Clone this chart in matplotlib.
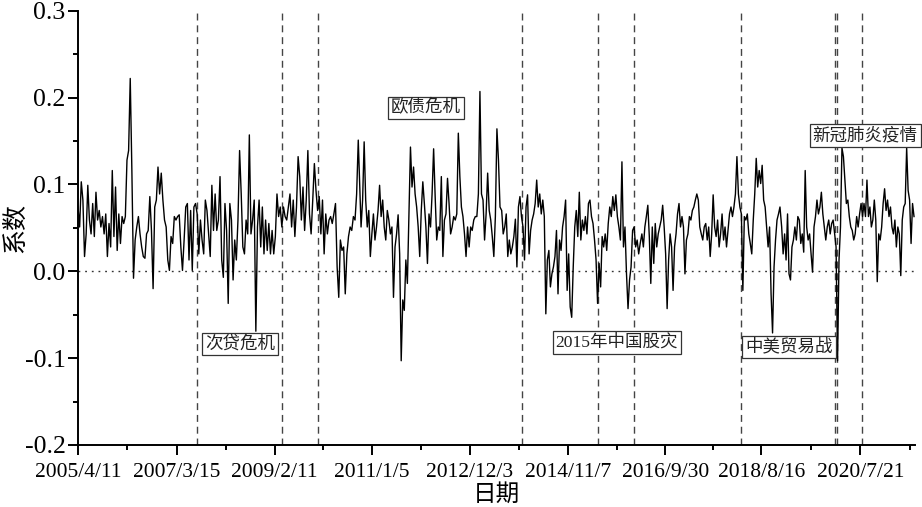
import matplotlib
matplotlib.use("Agg")
import matplotlib.pyplot as plt
from matplotlib.ticker import MultipleLocator, FormatStrFormatter
import pandas as pd

plt.rcParams['font.family'] = ['Liberation Serif', 'Noto Sans CJK SC']
plt.rcParams['axes.unicode_minus'] = False

# coefficient series
seg_edges = [("2005-04-11", "2008-01-19"), ("2008-01-31", "2010-10-01"),
             ("2010-10-21", "2013-07-08"), ("2013-07-20", "2016-04-03"),
             ("2016-04-15", "2018-12-26"), ("2019-01-07", "2021-08-08")]

seg_a = [0.074, 0.051, 0.103, 0.082, 0.017, 0.043, 0.099, 0.059, 0.043, 0.078,
         0.040, 0.091, 0.059, 0.070, 0.051, 0.063, 0.043, 0.066, 0.017, 0.055,
         0.028, 0.116, 0.040, 0.097, 0.024, 0.066, 0.032, 0.063, 0.055, 0.063,
         0.128, 0.139, 0.222, 0.116, -0.008, 0.036, 0.051, 0.063, 0.043, 0.028,
         0.017, 0.015, 0.043, 0.047, 0.086, 0.047, -0.020, 0.074, 0.082, 0.120,
         0.089, 0.113, 0.082, 0.059, 0.051, 0.013, 0.001, 0.040, 0.032, 0.063,
         0.059, 0.063, 0.065, 0.028, 0.001, 0.036, 0.074, 0.078, 0.013, 0.070,
         0.001, 0.074, 0.078, 0.066, 0.020, 0.059, 0.036, 0.020, 0.082, 0.070,
         0.043, 0.017, 0.099, 0.047, 0.089, 0.047, 0.059, 0.109]

seg_b = [0.013, -0.007, 0.078, 0.047, -0.037, 0.078, 0.059, -0.010, 0.036, 0.013,
         0.059, 0.139, 0.089, 0.028, 0.020, 0.059, 0.043, 0.157, 0.043, 0.059,
         0.082, -0.069, 0.051, 0.082, 0.028, 0.074, 0.020, 0.059, 0.024, 0.055,
         0.020, 0.047, 0.020, 0.040, 0.089, 0.063, 0.074, 0.051, 0.074, 0.063,
         0.059, 0.074, 0.089, 0.051, 0.082, 0.040, 0.074, 0.132, 0.109, 0.059,
         0.097, 0.047, 0.082, 0.139, 0.066, 0.043, 0.082, 0.124, 0.093, 0.070,
         0.086, 0.043, 0.082, 0.020, 0.066, 0.043, 0.059, 0.063, 0.055, 0.066,
         0.078, 0.005, -0.030, 0.036, 0.024, 0.028, -0.026, 0.020, 0.040, 0.051,
         0.047, 0.063, 0.059, 0.089, 0.151]

seg_c = [0.051, 0.082, 0.149, 0.082, 0.051, 0.070, 0.017, 0.043, 0.066, 0.036,
         0.051, 0.070, 0.099, 0.063, 0.082, 0.051, 0.036, 0.070, 0.059, 0.043,
         0.051, -0.030, 0.028, 0.043, 0.065, 0.020, -0.103, -0.033, -0.045, 0.013,
         -0.014, 0.066, 0.143, 0.097, 0.120, 0.089, 0.074, 0.051, 0.017, 0.070,
         0.103, 0.078, 0.051, 0.009, 0.066, 0.051, 0.089, 0.141, 0.086, 0.036,
         0.051, 0.047, 0.109, 0.017, 0.059, 0.066, 0.107, 0.078, 0.043, 0.051,
         0.063, 0.059, 0.066, 0.159, 0.109, 0.074, 0.063, 0.043, 0.017, 0.051,
         0.028, 0.051, 0.047, 0.059, 0.063, 0.063, 0.089, 0.207, 0.089, 0.082,
         0.036, 0.066, 0.113, 0.070, 0.059, 0.040, 0.017, 0.063, 0.164, 0.128,
         0.074]

seg_d = [0.070, 0.043, 0.051, 0.066, 0.017, 0.036, 0.020, 0.028, 0.040, 0.060,
         0.005, 0.074, 0.086, 0.063, 0.051, 0.013, 0.074, 0.088, 0.020, 0.047,
         0.059, 0.066, 0.078, 0.105, 0.074, 0.089, 0.066, 0.082, 0.063, -0.049,
         0.013, 0.024, -0.018, -0.003, 0.005, 0.017, 0.047, -0.026, 0.036, 0.024,
         0.051, 0.063, 0.082, -0.022, 0.020, -0.041, -0.053, 0.005, 0.051, 0.070,
         0.040, 0.091, 0.036, 0.059, 0.047, 0.063, 0.043, 0.078, 0.082, 0.063,
         0.055, 0.036, 0.013, -0.037, 0.009, -0.018, 0.040, 0.028, 0.043, 0.024,
         0.055, 0.074, 0.063, 0.086, 0.070, 0.088, 0.063, 0.051, 0.036, 0.126,
         0.028, 0.051, -0.003, -0.043, -0.010, 0.005, 0.047, 0.051, 0.028, 0.036,
         0.020, 0.032]

seg_e = [0.043, 0.028, 0.051, 0.063, 0.076, 0.040, -0.014, 0.051, 0.009, 0.055,
         0.028, 0.043, 0.051, 0.059, 0.076, 0.051, 0.020, -0.043, 0.013, 0.043,
         0.028, -0.022, 0.028, 0.043, 0.066, 0.078, 0.051, 0.063, 0.051, -0.003,
         0.036, 0.043, 0.063, 0.059, 0.070, 0.074, 0.082, 0.089, 0.082, 0.051,
         0.043, 0.036, 0.051, 0.055, 0.036, 0.051, 0.017, 0.043, 0.088, 0.051,
         0.040, 0.059, 0.028, 0.043, 0.066, 0.036, 0.051, 0.028, 0.047, 0.066,
         0.074, 0.063, 0.074, 0.089, 0.132, 0.089, 0.074, 0.066, -0.022, 0.063,
         0.059, 0.066, 0.043, 0.032, 0.020, 0.059, 0.089, 0.130, 0.097, 0.116,
         0.101, 0.122, 0.082, 0.074, 0.051, 0.028, 0.051, -0.026, -0.071, 0.005,
         0.036, 0.059, 0.066, 0.074]

seg_f = [0.051, 0.020, 0.043, 0.013, 0.066, -0.003, -0.010, 0.028, 0.036, 0.051,
         0.036, 0.063, 0.059, 0.032, 0.043, 0.022, 0.116, 0.051, 0.036, 0.043,
         0.020, -0.001, 0.051, 0.063, 0.082, 0.066, 0.074, 0.091, 0.066, 0.051,
         0.036, 0.051, 0.059, 0.043, 0.055, 0.059, 0.043, 0.028, -0.103, 0.013,
         0.051, 0.142, 0.132, 0.105, 0.078, 0.082, 0.063, 0.051, 0.047, 0.036,
         0.043, 0.063, 0.051, 0.066, 0.078, 0.063, 0.078, 0.063, 0.105, 0.063,
         0.074, 0.051, 0.059, 0.082, 0.059, -0.012, 0.043, 0.036, 0.051, 0.078,
         0.095, 0.070, 0.082, 0.063, 0.074, 0.051, 0.043, 0.059, 0.028, 0.051,
         0.043, -0.005, 0.059, 0.074, 0.078, 0.142, 0.093, 0.082, 0.032, 0.078,
         0.063]

segments = [seg_a, seg_b, seg_c, seg_d, seg_e, seg_f]

# event markers (dashed lines)
event_dates = ["2007-08-05", "2009-04-02", "2009-12-19", "2013-12-11", "2015-06-08",
               "2016-02-20", "2018-03-24", "2020-01-23", "2020-02-05", "2020-08-04"]

# labelled boxes
labels = ["次贷危机", "欧债危机", "2015年中国股灾", "中美贸易战", "新冠肺炎疫情"]
label_dates = ["2008-06-10", "2012-01-27", "2015-10-20", "2019-03-01", "2020-08-24"]
label_vals = [-0.0835, 0.188, -0.082, -0.087, 0.156]

tick_dates = ["2005-04-11", "2007-03-15", "2009-02-11", "2011-01-05", "2012-12-03",
              "2014-11-07", "2016-09-30", "2018-08-16", "2020-07-21"]
tick_labels = ["2005/4/11", "2007/3/15", "2009/2/11", "2011/1/5", "2012/12/3",
               "2014/11/7", "2016/9/30", "2018/8/16", "2020/7/21"]

dates, vals = [], []
for (d0, d1), seg in zip(seg_edges, segments):
    dates.extend(pd.date_range(d0, d1, periods=len(seg)))
    vals.extend(seg)

fig = plt.figure(figsize=(9.22, 5.07), dpi=100)
ax = fig.add_axes([0.0846, 0.1223, 0.9078, 0.8566])

ax.plot(dates, vals, color='black', lw=1.0, zorder=3)
ax.axhline(0, color='#333333', lw=1.0, linestyle=(0, (1.3, 3.5)), zorder=2)
for d in event_dates:
    ax.axvline(pd.Timestamp(d), color='#444444', lw=1.0, linestyle=(0, (5, 3.5)), zorder=2)

for txt, d, v in zip(labels, label_dates, label_vals):
    ax.text(pd.Timestamp(d), v, txt, ha='center', va='center', fontsize=12.6,
            color='#222222', zorder=6, clip_on=False,
            bbox=dict(boxstyle='square,pad=0.17', fc='white', ec='#333333', lw=0.9))

ax.set_xlim(pd.Timestamp("2005-04-11"), pd.Timestamp("2021-08-15"))
ax.set_ylim(-0.2, 0.3)

ticks = [pd.Timestamp(t) for t in tick_dates]
ax.set_xticks(ticks)
ax.set_xticklabels(tick_labels)
mids = [ticks[i] + (ticks[i + 1] - ticks[i]) / 2 for i in range(len(ticks) - 1)]
mids.append(ticks[-1] + (ticks[-1] - ticks[-2]) / 2)
ax.set_xticks(mids, minor=True)

ax.yaxis.set_major_locator(MultipleLocator(0.1))
ax.yaxis.set_minor_locator(MultipleLocator(0.05))
ax.yaxis.set_major_formatter(FormatStrFormatter('%.1f'))

for s in ['top', 'right']:
    ax.spines[s].set_visible(False)
for s in ['left', 'bottom']:
    ax.spines[s].set_linewidth(1.4)

ax.tick_params(axis='both', which='major', direction='out', length=7, width=1.4)
ax.tick_params(axis='both', which='minor', direction='out', length=3.8, width=1.4)
ax.tick_params(axis='y', which='major', labelsize=18.5, pad=2)
ax.tick_params(axis='x', which='major', labelsize=15.5, pad=6)

ax.set_xlabel("日期", fontsize=17, family=['Noto Sans CJK SC'])
ax.xaxis.set_label_coords(0.5, -0.088)
ax.set_ylabel("系数", fontsize=18, family=['Noto Sans CJK SC'])
ax.yaxis.set_label_coords(-0.075, 0.5)
ax.yaxis.label.set_va('center')

fig.savefig("out.png", dpi=100)
